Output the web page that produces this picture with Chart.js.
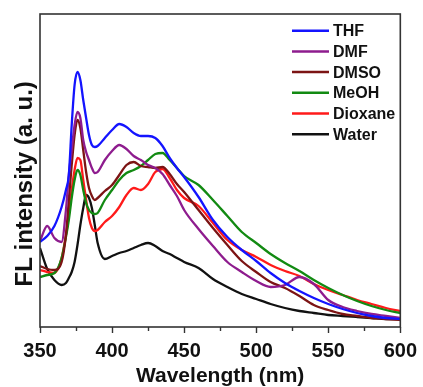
<!DOCTYPE html>
<html>
<head>
<meta charset="utf-8">
<script src="https://cdn.jsdelivr.net/npm/chart.js@4/dist/chart.umd.min.js"></script>
<style>
html,body{margin:0;padding:0;background:#fff;}
#wrap{width:423px;height:387px;position:relative;}
</style>
</head>
<body>
<div id="wrap"><canvas id="c" width="423" height="387"></canvas></div>
<script>
// Wavelength grid (nm)
const wavelengths = [350,355,360,365,368,370,372,374,376,378,380,382,384,386,388,390,395,400,405,410,415,420,425,430,435,440,445,450,460,470,480,490,500,510,520,530,540,550,560,570,580,590,600];
// FL intensity (a.u.) per solvent
const thf     = [85,91,101,120,137,152,202,242,255,247,227,209,192,182,180,181,189,197,203,200,194,191,191,189,181,169,159,150,130,107,90,77,66,54,44,36,29,23,18,14,11,9,8];
const dmf     = [86,101,89,85,117,152,177,202,215,209,187,175,167,159,154,155,167,176,182,178,171,167,162,159,153,142,131,117,98,81,65,55,46,40,42,50,43,27,20,16,13,11,9];
const dmso    = [61,58,57,65,92,127,162,192,207,199,177,155,139,131,127,129,136,142,152,162,165,161,160,159,160,153,143,135,117,99,82,66,55,45,39,31,22,17,13,11,9,8,7];
const meoh    = [50,52,54,69,90,107,129,147,157,152,137,124,117,114,113,114,127,137,147,154,157,161,167,173,174,167,159,151,142,127,111,95,84,73,64,56,47,39,32,26,21,17,14];
const dioxane = [57,55,54,69,92,112,137,157,169,167,147,127,109,99,96,97,105,111,120,132,139,137,143,155,158,149,137,129,121,104,87,77,70,62,56,51,43,37,32,27,23,19,16];
const water   = [79,58,47,42,44,49,55,65,82,102,119,132,129,119,102,84,68,71,74,76,79,82,84,81,76,73,69,65,59,48,40,33,28,23,19,16,14,12,11,10,9,8,8];
// x tick labels
const xTicks = [350,400,450,500,550,600];
const seriesLabels = ['THF','DMF','DMSO','MeOH','Dioxane','Water'];
const seriesValues = [thf,dmf,dmso,meoh,dioxane,water];
const seriesColors = ['#1414ff','#8e1c8e','#7c1414','#128a12','#ff1a1a','#111111'];

const FONT = '"Liberation Sans", Arial, Helvetica, sans-serif';

const framePlugin = {
  id: 'frame',
  afterDatasetsDraw(chart) {
    const {ctx, chartArea: a, scales} = chart;
    ctx.save();
    ctx.strokeStyle = '#333';
    ctx.lineWidth = 1.6;
    ctx.strokeRect(a.left, a.top, a.right - a.left, a.bottom - a.top);
    // minor ticks
    const xs = scales.x;
    ctx.lineWidth = 1.4;
    for (let v = 375; v < 600; v += 50) {
      const px = Math.round(xs.getPixelForValue(v)) + 0.5;
      ctx.beginPath();
      ctx.moveTo(px, a.bottom);
      ctx.lineTo(px, a.bottom + 4);
      ctx.stroke();
    }
    // legend
    const lx0 = 292, lx1 = 329, tx = 333, ty0 = 30.7, dy = 20.7;
    ctx.font = 'bold 16px ' + FONT;
    ctx.textBaseline = 'middle';
    ctx.textAlign = 'left';
    chart.data.datasets.forEach((ds, i) => {
      const y = ty0 + i * dy;
      ctx.strokeStyle = ds.borderColor;
      ctx.lineWidth = 2.5;
      ctx.beginPath();
      ctx.moveTo(lx0, y);
      ctx.lineTo(lx1, y);
      ctx.stroke();
      ctx.fillStyle = '#111';
      ctx.fillText(ds.label, tx, y + 1);
    });
    ctx.restore();
  }
};

new Chart(document.getElementById('c'), {
  type: 'line',
  data: {
    datasets: seriesLabels.map((lab, k) => ({
      label: lab,
      data: wavelengths.map((w, i) => ({x: w, y: seriesValues[k][i]})),
      borderColor: seriesColors[k],
      backgroundColor: seriesColors[k],
      borderWidth: 2.3,
      pointRadius: 0,
      fill: false,
      cubicInterpolationMode: 'monotone'
    }))
  },
  options: {
    responsive: false,
    animation: false,
    devicePixelRatio: 1,
    layout: {padding: {left: 0, right: 20, top: 14, bottom: 0}},
    plugins: {legend: {display: false}, tooltip: {enabled: false}},
    scales: {
      x: {
        type: 'linear',
        min: 350, max: 600,
        afterBuildTicks: (s) => { s.ticks = xTicks.map(v => ({value: v})); },
        afterFit: (s) => { s.height = 60; },
        grid: {display: true, drawOnChartArea: false, drawTicks: true, tickLength: 6, tickWidth: 1.4, tickColor: '#333'},
        border: {display: false},
        ticks: {
          font: {family: FONT, size: 20, weight: 'bold'},
          color: '#111',
          padding: 6,
          maxRotation: 0,
          autoSkip: false
        },
        title: {
          display: true,
          text: 'Wavelength (nm)',
          font: {family: FONT, size: 21, weight: 'bold', lineHeight: 1},
          color: '#111',
          padding: {top: 0, bottom: 0}
        }
      },
      y: {
        min: 0, max: 313,
        afterFit: (s) => { s.width = 40; },
        grid: {display: false},
        border: {display: false},
        ticks: {display: false},
        title: {
          display: true,
          text: 'FL intensity (a. u.)    ',
          font: {family: FONT, size: 24, weight: 'bold', lineHeight: 1},
          color: '#111',
          padding: {top: 13, bottom: 0}
        }
      }
    }
  },
  plugins: [framePlugin]
});
</script>
</body>
</html>
